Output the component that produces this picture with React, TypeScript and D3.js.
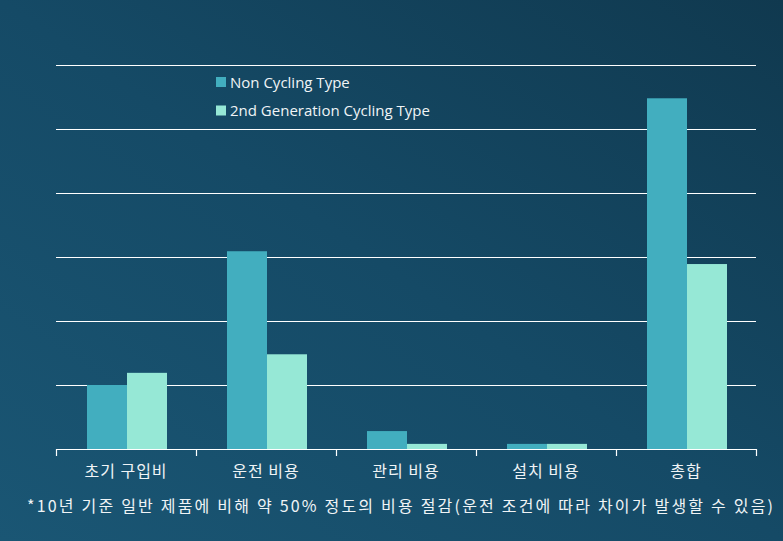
import React from "react";
import * as d3 from "d3";

const categories = ["초기 구입비", "운전 비용", "관리 비용", "설치 비용", "총합"];
const seriesNames = ["Non Cycling Type", "2nd Generation Cycling Type"];
const nonCycling = [10, 30.9, 2.8, 0.8, 54.8];
const cycling2nd = [11.9, 14.8, 0.8, 0.8, 28.9];
const gridTicks = [10, 20, 30, 40, 50, 60];
const footnote = "*10년 기준 일반 제품에 비해 약 50% 정도의 비용 절감(운전 조건에 따라 차이가 발생할 수 있음)";

const W = 783;
const H = 541;
const colors = ["#42AEBF", "#96E8D6"];
const korFont = "'Noto Sans CJK KR', 'Noto Sans', sans-serif";
const latFont = "'Open Sans', 'Noto Sans', sans-serif";

export default function App() {
  const x0 = d3.scaleBand<string>().domain(categories).range([56, 756]).padding(0);
  const x1 = d3
    .scaleBand<string>()
    .domain(seriesNames)
    .range([1, x0.step() + 1])
    .paddingInner(0)
    .paddingOuter(0.75);
  const y = d3.scaleLinear().domain([0, 60]).range([449, 65]);
  const series = [nonCycling, cycling2nd];
  const tickXs = categories.map((c) => x0(c) as number).concat([x0.range()[1]]);

  return (
    <svg
      width={W}
      height={H}
      style={{ position: "absolute", left: 0, top: 0, display: "block" }}
    >
      <defs>
        <linearGradient id="bg" x1="0" y1="1" x2="1" y2="0">
          <stop offset="0%" stopColor="#1a5674" />
          <stop offset="50%" stopColor="#154a66" />
          <stop offset="100%" stopColor="#10394f" />
        </linearGradient>
      </defs>
      <rect x={0} y={0} width={W} height={H} fill="url(#bg)" />
      {gridTicks.map((t) => (
        <line
          key={t}
          x1={56}
          x2={756}
          y1={y(t) + 0.5}
          y2={y(t) + 0.5}
          stroke="#ffffff"
          strokeWidth={1}
        />
      ))}
      {categories.map((c, i) => (
        <g key={c} transform={`translate(${x0(c)},0)`}>
          {series.map((s, j) => (
            <rect
              key={j}
              x={x1(seriesNames[j])}
              y={y(s[i])}
              width={x1.bandwidth()}
              height={y(0) - y(s[i])}
              fill={colors[j]}
            />
          ))}
        </g>
      ))}
      <line x1={56} x2={756} y1={y(0) + 0.5} y2={y(0) + 0.5} stroke="#ffffff" strokeWidth={1.2} />
      {tickXs.map((tx, i) => (
        <line key={i} x1={tx + 0.5} x2={tx + 0.5} y1={y(0)} y2={y(0) + 7} stroke="#ffffff" strokeWidth={1.2} />
      ))}
      {categories.map((c) => (
        <text
          key={c}
          x={(x0(c) as number) + x0.bandwidth() / 2}
          y={477}
          textAnchor="middle"
          fill="#f0f4f6"
          fontFamily={korFont}
          fontSize={16}
          letterSpacing={1}
        >
          {c}
        </text>
      ))}
      {seriesNames.map((n, j) => (
        <g key={n} transform={`translate(216, ${77 + j * 28.5})`}>
          <rect x={0} y={0} width={10} height={10} fill={colors[j]} />
          <text x={14} y={10.5} fill="#f0f4f6" fontFamily={latFont} fontSize={15}>
            {n}
          </text>
        </g>
      ))}
      <text
        x={27}
        y={512}
        fill="#f0f4f6"
        fontFamily={korFont}
        fontSize={16}
        textLength={746}
        lengthAdjust="spacing"
      >
        {footnote}
      </text>
    </svg>
  );
}
